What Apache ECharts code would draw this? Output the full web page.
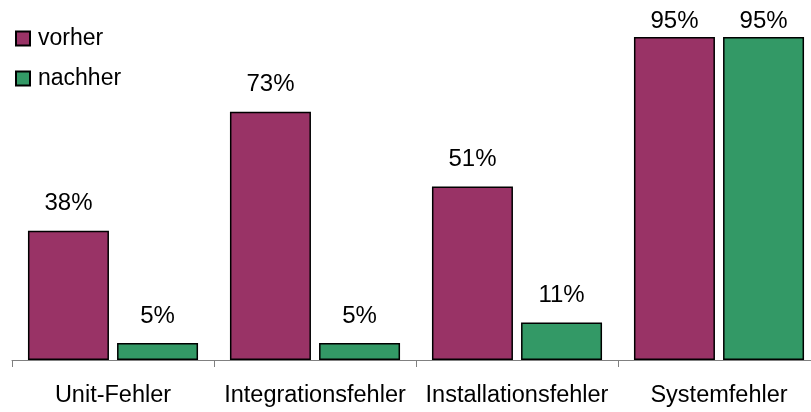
<!DOCTYPE html>
<html>
<head>
<meta charset="utf-8">
<script src="https://cdn.jsdelivr.net/npm/echarts@6/dist/echarts.min.js"></script>
<style>html,body{margin:0;padding:0;background:#fff;overflow:hidden}#c{width:820px;height:412px}</style>
</head>
<body>
<div id="c"></div>
<script>
const categories = ['Unit-Fehler', 'Integrationsfehler', 'Installationsfehler', 'Systemfehler'];
const vorher = [38, 73, 51, 95];
const nachher = [5, 5, 11, 95];
const seriesNames = ['vorher', 'nachher'];

const font = 'Liberation Sans, Arial, sans-serif';
function mk(vals) {
  return vals.map(v => ({
    value: v,
    label: { distance: v >= 95 ? 4 : 15 }
  }));
}
const chart = echarts.init(document.getElementById('c'), null, { renderer: 'canvas' });
chart.setOption({
  animation: false,
  backgroundColor: '#ffffff',
  grid: { left: 12, top: 20, right: 0, bottom: 52, containLabel: false },
  legend: {
    orient: 'vertical', left: 15, top: 27, padding: 0, itemWidth: 14, itemHeight: 14, itemGap: 17,
    icon: 'rect',
    textStyle: { fontFamily: font, fontSize: 23, color: '#000', lineHeight: 23, padding: [0, 0, 0, 3] },
    data: seriesNames
  },
  xAxis: {
    type: 'category', data: categories,
    axisLine: { lineStyle: { color: '#808080', width: 1 } },
    axisTick: { show: true, length: 7, lineStyle: { color: '#808080' } },
    axisLabel: { fontFamily: font, fontSize: 23.5, color: '#000', margin: 24, lineHeight: 23, interval: 0 }
  },
  yAxis: {
    type: 'value', min: 0, max: 100, show: false
  },
  series: [
    {
      name: seriesNames[0], type: 'bar', data: mk(vorher), barWidth: 81, barGap: '10%',
      itemStyle: { color: '#993366', borderColor: '#000', borderWidth: 1.5 },
      label: { show: true, position: 'top', formatter: '{c}%', fontFamily: font, fontSize: 24, color: '#000' }
    },
    {
      name: seriesNames[1], type: 'bar', data: mk(nachher), barWidth: 81,
      itemStyle: { color: '#339966', borderColor: '#000', borderWidth: 1.5 },
      label: { show: true, position: 'top', formatter: '{c}%', fontFamily: font, fontSize: 24, color: '#000' }
    }
  ]
});
</script>
</body>
</html>
